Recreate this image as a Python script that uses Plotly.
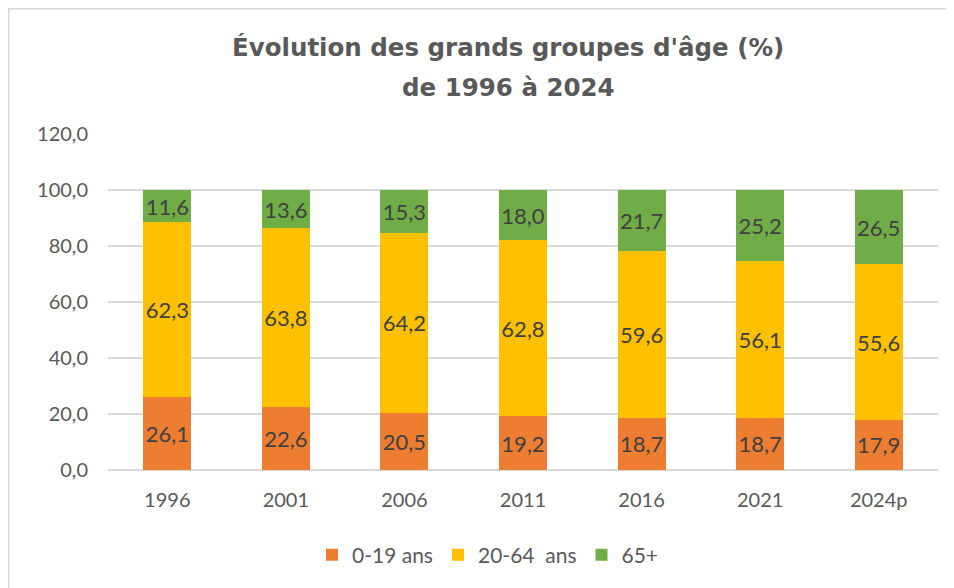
import plotly.graph_objects as go

years = ["1996", "2001", "2006", "2011", "2016", "2021", "2024p"]
age_0_19 = [26.1, 22.6, 20.5, 19.2, 18.7, 18.7, 17.9]
age_20_64 = [62.3, 63.8, 64.2, 62.8, 59.6, 56.1, 55.6]
age_65 = [11.6, 13.6, 15.3, 18.0, 21.7, 25.2, 26.5]
series_names = ["0-19 ans", "20-64&nbsp; ans", "65+"]
colors = ["#ED7D31", "#FFC000", "#70AD47"]
y_ticks = [0, 20, 40, 60, 80, 100, 120]
title_lines = ["Évolution des grands groupes d'âge (%)", "de 1996 à 2024"]

W, H = 954, 588
L, R, T, B = 100, 24, 126, 126
pw = W - L - R
ph = H - T - B

fig = go.Figure()
for name, vals, col in zip(series_names, [age_0_19, age_20_64, age_65], colors):
    fig.add_trace(go.Bar(
        x=years, y=vals, name=name,
        marker=dict(color=col, line=dict(width=0)),
        texttemplate="%{y:.1f}", textposition="inside",
        insidetextanchor="middle", textangle=0, constraintext="none",
        textfont=dict(family="Lato, Open Sans, sans-serif", size=22, color="#404040"),
        hoverinfo="skip",
    ))

title_font = dict(family="DejaVu Sans, Liberation Sans, sans-serif", size=24.5, color="#595959", weight="bold")
annotations = [
    dict(text=t, xref="paper", yref="paper",
         x=(500 - L) / pw, y=(H - B - yc) / ph,
         xanchor="center", yanchor="middle", showarrow=False, font=title_font)
    for t, yc in zip(title_lines, [39, 79])
]

fig.update_layout(
    width=W, height=H,
    barmode="stack", bargap=0.595,
    separators=", ",
    paper_bgcolor="white", plot_bgcolor="white",
    margin=dict(l=L, r=R, t=T, b=B),
    annotations=annotations,
    xaxis=dict(
        showgrid=False, showline=False, ticks="", ticklabelstandoff=16,
        tickfont=dict(family="Lato, Open Sans, sans-serif", size=20, color="#595959"),
    ),
    yaxis=dict(
        range=[0, 120], tickvals=y_ticks, tickformat=".1f",
        showgrid=True, gridcolor="#D9D9D9", gridwidth=1.5,
        zeroline=True, zerolinecolor="#D9D9D9", zerolinewidth=1.5,
        showline=False, ticks="", ticklabelstandoff=19,
        tickfont=dict(family="Lato, Open Sans, sans-serif", size=20, color="#595959"),
    ),
    legend=dict(
        orientation="h", x=480 / W, xanchor="center",
        xref="container", yref="container", y=(H - 547) / H, yanchor="middle",
        font=dict(family="Lato, Open Sans, sans-serif", size=21, color="#595959"),
        traceorder="normal",
    ),
    shapes=[dict(
        type="rect", xref="paper", yref="paper",
        x0=(0.75 - L) / pw, x1=(W + 50 - L) / pw,
        y0=-1.0, y1=(ph + T - 0.75) / ph,
        line=dict(color="#D9D9D9", width=1.5), fillcolor="rgba(0,0,0,0)", layer="below",
    )],
)

fig.write_html("out.html")
